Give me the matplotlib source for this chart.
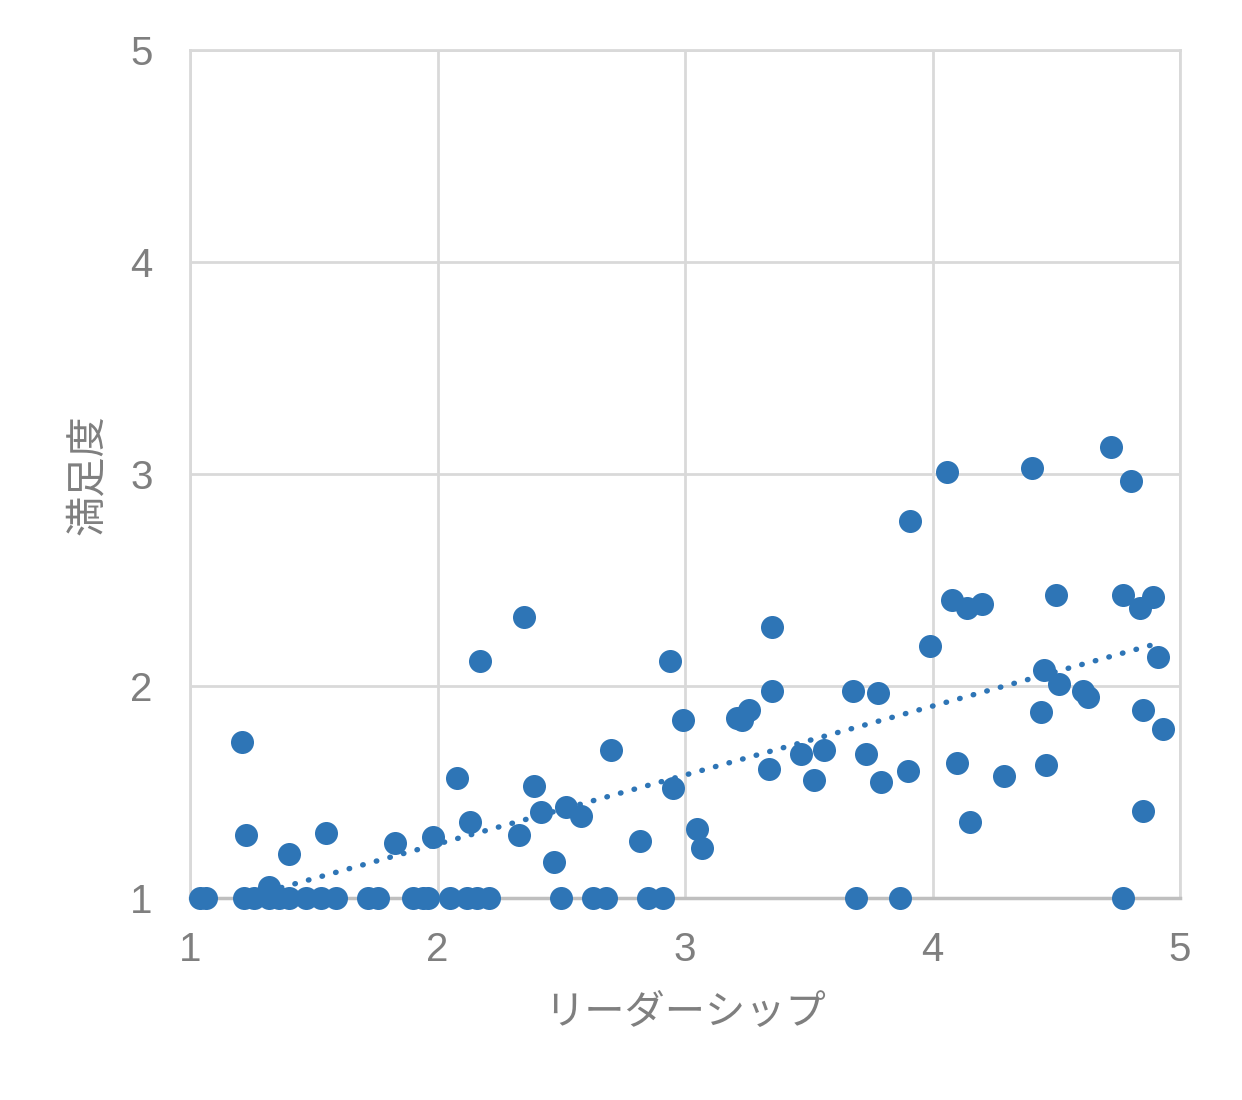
import numpy as np
import matplotlib
matplotlib.use("Agg")
import matplotlib.pyplot as plt

# scatter data
leadership = [
    1.04, 1.065, 1.22, 1.26, 1.32, 1.36, 1.40, 1.47, 1.53, 1.59, 1.72, 1.76,
    1.90, 1.94, 1.96, 2.05, 2.12, 2.16, 2.21, 2.50, 2.63, 2.68, 2.85, 2.91,
    3.69, 3.87, 4.77,
    1.21, 1.226, 1.32, 1.40, 1.55, 1.83, 1.98, 2.08, 2.13, 2.17, 2.33, 2.35,
    2.39, 2.42, 2.47, 2.52, 2.58, 2.70, 2.82, 2.94, 2.95, 2.99, 3.05, 3.07,
    3.21, 3.23, 3.26, 3.34, 3.35, 3.35, 3.47, 3.52, 3.56, 3.68, 3.73, 3.78,
    3.79, 3.90, 3.91, 3.99, 4.06, 4.08, 4.10, 4.14, 4.15, 4.20, 4.29, 4.40,
    4.44, 4.45, 4.46, 4.50, 4.51, 4.61, 4.63, 4.72, 4.77, 4.80, 4.84, 4.85,
    4.85, 4.89, 4.91, 4.93,
]
satisfaction = [
    1, 1, 1, 1, 1, 1, 1, 1, 1, 1, 1, 1,
    1, 1, 1, 1, 1, 1, 1, 1, 1, 1, 1, 1,
    1, 1, 1,
    1.736, 1.297, 1.05, 1.208, 1.307, 1.26, 1.29, 1.566, 1.358, 2.118, 1.297, 2.325,
    1.528, 1.406, 1.17, 1.43, 1.387, 1.698, 1.269, 2.118, 1.519, 1.84, 1.325, 1.236,
    1.849, 1.84, 1.887, 1.608, 2.278, 1.976, 1.679, 1.557, 1.698, 1.976, 1.679, 1.967,
    1.547, 1.599, 2.778, 2.189, 3.009, 2.406, 1.637, 2.368, 1.358, 2.387, 1.575, 3.028,
    1.877, 2.075, 1.627, 2.429, 2.009, 1.976, 1.948, 3.127, 2.429, 2.967, 2.368, 1.887,
    1.41, 2.42, 2.137, 1.797,
]
ticks = [1, 2, 3, 4, 5]

blue = "#2E75B6"
gray_text = "#7F7F7F"
plt.rcParams["font.family"] = ["Liberation Sans", "Noto Sans CJK JP", "DejaVu Sans"]

fig = plt.figure(figsize=(12.42, 11), dpi=100)
ax = fig.add_axes([190 / 1242, 1 - 898 / 1100, 990 / 1242, 848 / 1100])

ax.scatter(leadership, satisfaction, s=275, color=blue, zorder=3,
           linewidths=0, clip_on=False)

# linear trendline over the data range
x = np.array(leadership)
k, b = np.polyfit(x, np.array(satisfaction), 1)
xs = np.linspace(x.min(), x.max(), 200)
ax.plot(xs, k * xs + b, color=blue, lw=3.9, linestyle=(0, (0.1, 2.5)),
        dash_capstyle="round", zorder=2)

ax.set_xlim(1, 5)
ax.set_ylim(1, 5)
ax.set_xticks(ticks)
ax.set_yticks(ticks)
ax.grid(True, color="#D9D9D9", lw=2, zorder=0)
ax.tick_params(length=0, labelsize=29, labelcolor=gray_text)
ax.tick_params(axis="x", pad=24)
ax.tick_params(axis="y", pad=27)
for name, sp in ax.spines.items():
    sp.set_color("#D9D9D9")
    sp.set_linewidth(2)
ax.spines["bottom"].set_color("#BFBFBF")
ax.spines["bottom"].set_linewidth(2.5)

fig.text(685 / 1242, 1 - 1012 / 1100, "リーダーシップ", ha="center", va="center",
         fontsize=29, color=gray_text, family=["Noto Sans CJK JP", "DejaVu Sans"])
fig.text(88 / 1242, 1 - 475 / 1100, "満足度", ha="center", va="center",
         rotation=90, fontsize=29, color=gray_text,
         family=["Noto Sans CJK JP", "DejaVu Sans"])

fig.savefig("out.png", dpi=100, facecolor="white")
